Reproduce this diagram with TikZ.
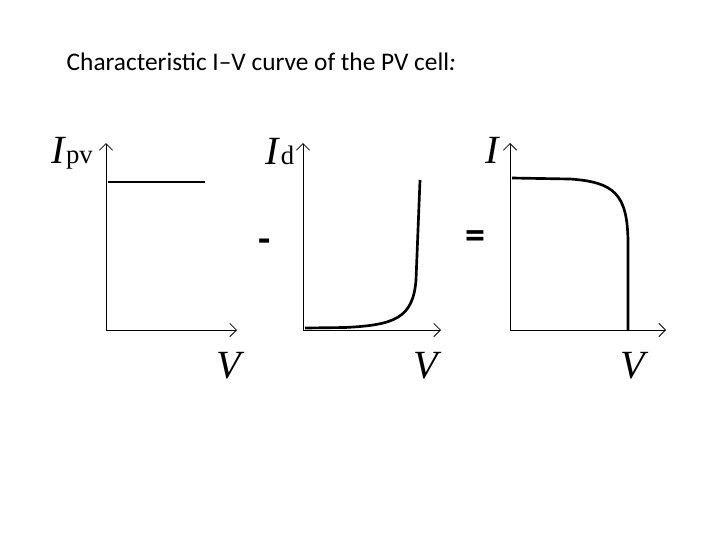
\documentclass[tikz,border=0pt]{standalone}
\usepackage{fontspec}
\setmainfont{Liberation Serif}
\newfontfamily\titlefont{Carlito}
\begin{document}
\begin{tikzpicture}[x=0.75pt,y=-0.75pt,
  axis/.style={-{Straight Barb[length=5pt]},line width=0.6pt},
  curve/.style={line width=2pt},
  lab/.style={font=\fontsize{30}{30}\selectfont\itshape},
  op/.style={font=\titlefont\fontsize{30}{30}\selectfont\bfseries}]
\usetikzlibrary{arrows.meta}
\useasboundingbox (0,0) rectangle (720,540);
\node[anchor=west,font=\titlefont\fontsize{19}{19}\selectfont] (title) at (62,62) {Characteristic I–V curve of the PV cell\textit{:}};
% plot 1
\coordinate (o1) at (106,330);
\coordinate (y1) at (106,143);
\coordinate (x1) at (237,330);
\draw[axis] (o1) -- (y1);
\draw[axis] (o1) -- (x1);
\coordinate (a1) at (108,182); \coordinate (b1) at (205,182);
\draw[curve] (a1) -- (b1);
\node[lab] (ipv) at (72,153) {I\textup{\fontsize{20}{20}\selectfont pv}};
\node[lab] (v1) at (229,366) {V};
% plot 2
\coordinate (o2) at (303,330);
\coordinate (y2) at (303,143);
\coordinate (x2) at (441,330);
\draw[axis] (o2) -- (y2);
\draw[axis] (o2) -- (x2);
\coordinate (a2) at (305,328);
\draw[curve] (a2) -- (345,327.5) .. controls (395,325) and (413,318) .. (416,280) -- (420,180);
\node[lab] (id) at (280,152) {I\textup{\fontsize{20}{20}\selectfont d}};
\node[lab] (v2) at (426,366) {V};
\node[op] (minus) at (265,246) {-};
% plot 3
\coordinate (o3) at (510,330);
\coordinate (y3) at (510,143);
\coordinate (x3) at (666,330);
\draw[axis] (o3) -- (y3);
\draw[axis] (o3) -- (x3);
\draw[curve] (512,178) -- (570,179) .. controls (615,182) and (627,195) .. (628,240) -- (628,330);
\node[lab] (i) at (492,150) {I};
\node[lab] (v3) at (633,366) {V};
\node[op] (eq) at (475,240) {=};
\end{tikzpicture}
\end{document}
